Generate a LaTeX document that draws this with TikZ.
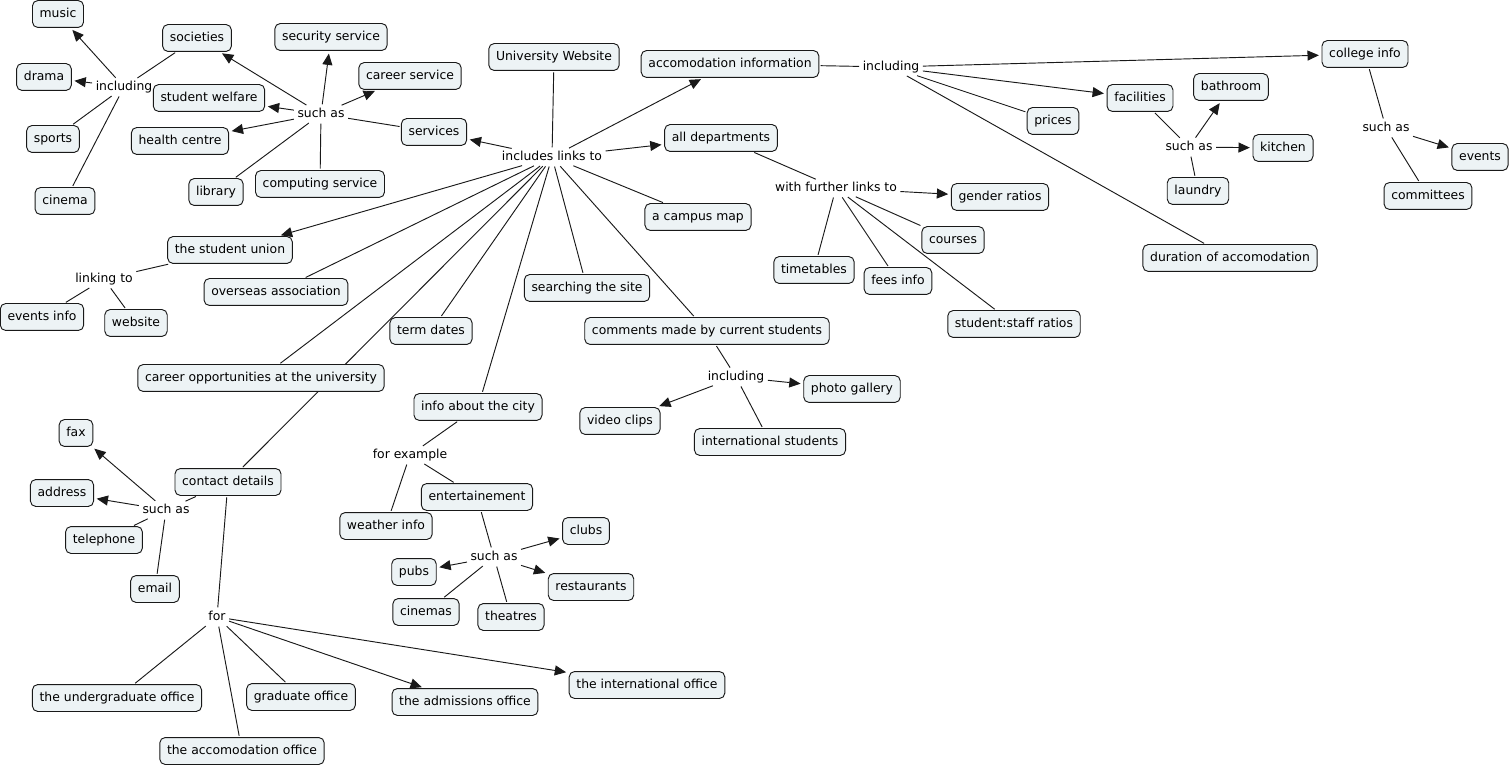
\documentclass[tikz,border=0pt]{standalone}
\usepackage{fontspec}
\setmainfont{DejaVu Sans}
\usetikzlibrary{arrows.meta,backgrounds}
\definecolor{cfill}{RGB}{237,243,245}
\definecolor{cline}{RGB}{25,25,25}
\begin{document}
\begin{tikzpicture}[x=0.75pt,y=-0.75pt,
  every node/.style={font=\fontsize{9.3pt}{11pt}\selectfont, text=black, text height=7pt, text depth=2pt},
  concept/.style={draw=cline, fill=cfill, rounded corners=4pt, line width=0.7pt, inner xsep=5.4pt, inner ysep=5.6pt},
  lnk/.style={inner xsep=1.5pt, inner ysep=1.5pt},
  con/.style={draw=cline, line width=0.7pt, shorten <=1pt, shorten >=1pt},
  arr/.style={con, -{Triangle[length=8.5pt,width=7.5pt]}, shorten >=2pt}]
\useasboundingbox (0,0) rectangle (1510,766);
% concepts
\node[concept] (uw) at (554,57) {University Website};
\node[concept] (acc) at (730,64) {accomodation information};
\node[concept] (col) at (1365,54) {college info};
\node[concept] (music) at (58,14) {music};
\node[concept] (soc) at (197,38) {societies};
\node[concept] (sec) at (331,37) {security service};
\node[concept] (drama) at (44,77) {drama};
\node[concept] (welf) at (209,98) {student welfare};
\node[concept] (car) at (410,76) {career service};
\node[concept] (bath) at (1231,87) {bathroom};
\node[concept] (fac) at (1140,98) {facilities};
\node[concept] (prices) at (1053,121) {prices};
\node[concept] (serv) at (434,132) {services};
\node[concept] (dept) at (721,138) {all departments};
\node[concept] (kit) at (1283,148) {kitchen};
\node[concept] (events) at (1480,157) {events};
\node[concept] (sports) at (53,139) {sports};
\node[concept] (health) at (180,141) {health centre};
\node[concept] (lib) at (216,192) {library};
\node[concept] (comp) at (320,184) {computing service};
\node[concept] (laun) at (1198,191) {laundry};
\node[concept] (comm) at (1428,196) {committees};
\node[concept] (gend) at (1000,197) {gender ratios};
\node[concept] (cinema) at (65,201) {cinema};
\node[concept] (map) at (698,217) {a campus map};
\node[concept] (courses) at (953,240) {courses};
\node[concept] (dur) at (1230,258) {duration of accomodation};
\node[concept] (su) at (230,250) {the student union};
\node[concept] (time) at (814,270) {timetables};
\node[concept] (fees) at (898,281) {fees info};
\node[concept] (over) at (276,292) {overseas association};
\node[concept] (search) at (587,288) {searching the site};
\node[concept] (evinfo) at (42,317) {events info};
\node[concept] (web) at (136,323) {website};
\node[concept] (term) at (431,331) {term dates};
\node[concept] (ssr) at (1014,324) {student:staff ratios};
\node[concept] (cmts) at (707,331) {comments made by current students};
\node[concept] (copp) at (261,378) {career opportunities at the university};
\node[concept] (photo) at (852,389) {photo gallery};
\node[concept] (city) at (478,407) {info about the city};
\node[concept] (video) at (620,421) {video clips};
\node[concept] (intl) at (770,442) {international students};
\node[concept] (fax) at (76,433) {fax};
\node[concept] (cont) at (228,482) {contact details};
\node[concept] (addr) at (62,493) {address};
\node[concept] (ent) at (477,497) {entertainement};
\node[concept] (weath) at (386,526) {weather info};
\node[concept] (clubs) at (586,531) {clubs};
\node[concept] (tel) at (104,540) {telephone};
\node[concept] (pubs) at (414,572) {pubs};
\node[concept] (rest) at (591,587) {restaurants};
\node[concept] (email) at (155,589) {email};
\node[concept] (cinemas) at (426,612) {cinemas};
\node[concept] (theat) at (511,617) {theatres};
\node[concept] (intoff) at (647,685) {the international office};
\node[concept] (ugoff) at (117,698) {the undergraduate office};
\node[concept] (gradoff) at (301,697) {graduate office};
\node[concept] (admoff) at (465,702) {the admissions office};
\node[concept] (accoff) at (242,751) {the accomodation office};
% linking phrases
\node[lnk] (l1) at (124,87) {including};
\node[lnk] (l2) at (321,114) {such as};
\node[lnk] (l3) at (552,157) {includes links to};
\node[lnk] (l4) at (891,67) {including};
\node[lnk] (l5) at (1189,147) {such as};
\node[lnk] (l6) at (1386,128) {such as};
\node[lnk] (l7) at (836,188) {with further links to};
\node[lnk] (l8) at (104,279) {linking to};
\node[lnk] (l9) at (736,377) {including};
\node[lnk] (l10) at (410,455) {for example};
\node[lnk] (l11) at (166,510) {such as};
\node[lnk] (l12) at (494,557) {such as};
\node[lnk] (l13) at (217,617) {for};
% connectors
\begin{scope}[on background layer]
\draw[con] (uw) -- (l3);
\draw[arr] (l3) -- (serv);
\draw[arr] (l3) -- (acc);
\draw[arr] (l3) -- (dept);
\draw[con] (l3) -- (map);
\draw[arr] (l3) -- (su);
\draw[con] (l3) -- (over);
\draw[con] (l3) -- (copp);
\draw[con] (l3) -- (cont);
\draw[con] (l3) -- (term);
\draw[con] (l3) -- (city);
\draw[con] (l3) -- (search);
\draw[con] (l3) -- (cmts);
\draw[con] (serv) -- (l2);
\draw[arr] (l2) -- (soc);
\draw[arr] (l2) -- (sec);
\draw[arr] (l2) -- (car);
\draw[arr] (l2) -- (welf);
\draw[arr] (l2) -- (health);
\draw[con] (l2) -- (lib);
\draw[con] (l2) -- (comp);
\draw[con] (soc) -- (l1);
\draw[arr] (l1) -- (music);
\draw[arr] (l1) -- (drama);
\draw[con] (l1) -- (sports);
\draw[con] (l1) -- (cinema);
\draw[con] (acc) -- (l4);
\draw[arr] (l4) -- (col);
\draw[arr] (l4) -- (fac);
\draw[con] (l4) -- (prices);
\draw[con] (l4) -- (dur);
\draw[con] (fac) -- (l5);
\draw[arr] (l5) -- (bath);
\draw[arr] (l5) -- (kit);
\draw[con] (l5) -- (laun);
\draw[con] (col) -- (l6);
\draw[arr] (l6) -- (events);
\draw[con] (l6) -- (comm);
\draw[con] (dept) -- (l7);
\draw[arr] (l7) -- (gend);
\draw[con] (l7) -- (courses);
\draw[con] (l7) -- (time);
\draw[con] (l7) -- (fees);
\draw[con] (l7) -- (ssr);
\draw[con] (su) -- (l8);
\draw[con] (l8) -- (evinfo);
\draw[con] (l8) -- (web);
\draw[con] (cmts) -- (l9);
\draw[arr] (l9) -- (photo);
\draw[arr] (l9) -- (video);
\draw[con] (l9) -- (intl);
\draw[con] (city) -- (l10);
\draw[con] (l10) -- (weath);
\draw[con] (l10) -- (ent);
\draw[con] (ent) -- (l12);
\draw[arr] (l12) -- (clubs);
\draw[arr] (l12) -- (pubs);
\draw[arr] (l12) -- (rest);
\draw[con] (l12) -- (cinemas);
\draw[con] (l12) -- (theat);
\draw[con] (cont) -- (l11);
\draw[arr] (l11) -- (fax);
\draw[arr] (l11) -- (addr);
\draw[con] (l11) -- (tel);
\draw[con] (l11) -- (email);
\draw[con] (cont) -- (l13);
\draw[arr] (l13) -- (admoff);
\draw[arr] (l13) -- (intoff);
\draw[con] (l13) -- (ugoff);
\draw[con] (l13) -- (gradoff);
\draw[con] (l13) -- (accoff);
\end{scope}
\end{tikzpicture}
\end{document}
